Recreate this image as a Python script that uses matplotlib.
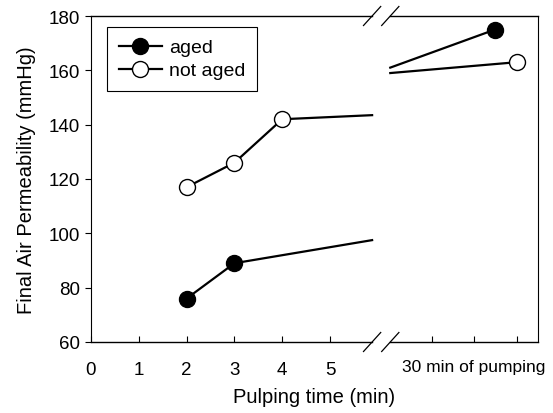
import matplotlib
matplotlib.use('Agg')
import matplotlib.pyplot as plt
from matplotlib.lines import Line2D

plt.rcParams['font.family'] = ['Liberation Sans', 'DejaVu Sans']

# pulping time data (min)
t_aged = [2, 3]
aged = [76, 89]
t_not_aged = [2, 3, 4]
not_aged = [117, 126, 142]

# continuation of each curve up to the axis break
aged_tail_x = [3, 5.88]
aged_tail_y = [89, 97.5]
not_aged_tail_x = [4, 5.88]
not_aged_tail_y = [142, 143.5]

# after 30 min of pumping (right part of the broken axis)
pump_start_x = 6.26
aged_pump_x = [pump_start_x, 8.45]
aged_pump_y = [161, 175]
not_aged_pump_x = [pump_start_x, 8.91]
not_aged_pump_y = [159, 163]

left_ticks = [0, 1, 2, 3, 4, 5]
right_ticks = [7.13, 8.01, 8.91]
y_ticks = [60, 80, 100, 120, 140, 160, 180]

xmax = 9.35
brk_lo, brk_hi = 5.88, 6.26

fig = plt.figure(figsize=(5.53, 4.14), dpi=100)
ax = fig.add_axes([91 / 553, 1 - 343 / 414, 447 / 553, 326 / 414])

lw = 1.6
ms = 11.5
ax.plot(aged_tail_x, aged_tail_y, color='black', lw=lw)
ax.plot(not_aged_tail_x, not_aged_tail_y, color='black', lw=lw)
ax.plot(aged_pump_x, aged_pump_y, color='black', lw=lw)
ax.plot(not_aged_pump_x, not_aged_pump_y, color='black', lw=lw)
ax.plot(aged_pump_x[1], aged_pump_y[1], 'o', color='black', ms=ms, zorder=5)
ax.plot(not_aged_pump_x[1], not_aged_pump_y[1], 'o', mfc='white', mec='black',
        mew=1.0, ms=ms, zorder=5)
ax.plot(t_aged, aged, '-o', color='black', lw=lw, ms=ms, zorder=5)
ax.plot(t_not_aged, not_aged, '-o', color='black', lw=lw, mfc='white',
        mec='black', mew=1.0, ms=ms, zorder=5)

ax.set_xlim(0, xmax)
ax.set_ylim(60, 180)

# broken top/bottom spines
ax.spines['top'].set_visible(False)
ax.spines['bottom'].set_visible(False)
for yy in (60, 180):
    ax.plot([0, brk_lo], [yy, yy], color='black', lw=1.0, clip_on=False)
    ax.plot([brk_hi, xmax], [yy, yy], color='black', lw=1.0, clip_on=False)
    for x0 in (5.7, 6.08):
        ax.plot([x0, x0 + 0.36], [yy - 3.5, yy + 3.5], color='black', lw=0.9,
                clip_on=False)

ax.set_xticks(left_ticks + right_ticks)
ax.set_xticklabels([str(t) for t in left_ticks] + ['', '', ''])
ax.tick_params(axis='x', direction='in', length=4, labelsize=13.5, pad=14)
ax.tick_params(axis='y', direction='out', length=4, labelsize=13.5, pad=4)
ax.set_yticks(y_ticks)
ax.text(right_ticks[1], 53.8, '30 min of pumping', ha='center', va='top',
        fontsize=12.5)

ax.set_xlabel('Pulping time (min)', fontsize=14.5, labelpad=6)
ax.set_ylabel('Final Air Permeability (mmHg)', fontsize=14.5, labelpad=9)

handles = [
    Line2D([], [], color='black', lw=lw, marker='o', ms=ms, mfc='black'),
    Line2D([], [], color='black', lw=lw, marker='o', ms=ms, mfc='white', mew=1.0),
]
leg = ax.legend(handles, ['aged', 'not aged'], loc='upper left',
                bbox_to_anchor=(0.036, 0.966), fontsize=14, fancybox=False,
                framealpha=1, edgecolor='black', handlelength=2.2,
                handletextpad=0.4, borderpad=0.6, labelspacing=0.28,
                borderaxespad=0)
leg.get_frame().set_linewidth(0.8)

fig.savefig('out.png', dpi=100)
